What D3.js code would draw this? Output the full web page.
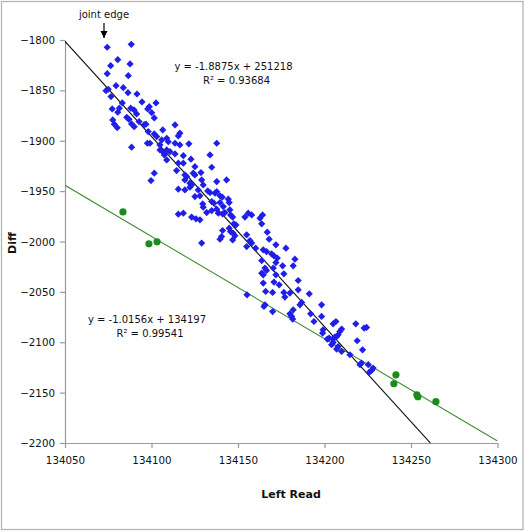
<!DOCTYPE html>
<html>
<head>
<meta charset="utf-8">
<script src="https://cdn.jsdelivr.net/npm/d3@7"></script>
<style>
  body { margin: 0; background: #fff; }
  svg { display: block; font-family: "DejaVu Sans", Verdana, sans-serif; }
</style>
</head>
<body>
<div class="chart"></div>
<script>
var svgWidth = 525
var svgHeight = 532

// blue series (left read, diff)
var blueX = [
  134074.4, 134088.3, 134080.5, 134076.4, 134087.6, 134074.4, 134086.6, 134079.5, 134073.7, 134075.0,
  134076.6, 134083.7, 134086.4, 134091.6, 134083.1, 134077.3, 134081.4, 134080.5, 134094.5, 134088.0,
  134089.9, 134091.4, 134085.7, 134087.0, 134098.7, 134097.8, 134102.6, 134100.1, 134101.6, 134077.6,
  134078.5, 134080.2, 134088.5, 134090.0, 134092.8, 134095.8, 134096.8, 134098.1, 134101.6, 134106.5,
  134105.9, 134103.0, 134097.6, 134099.1, 134088.5, 134104.9, 134104.9, 134106.5, 134107.4, 134101.6,
  134099.7,
  134113.6, 134116.4, 134115.5, 134108.8, 134109.7, 134113.6, 134116.4, 134121.6, 134137.7, 134108.8,
  134110.7, 134113.6, 134118.4, 134133.8, 134108.8, 134115.5, 134118.4, 134122.8, 134125.1, 134134.8,
  134114.5, 134119.3, 134120.3, 134124.1, 134125.1, 134128.6, 134119.3, 134122.2, 134123.2, 134129.0,
  134129.9, 134137.7, 134143.4, 134115.5, 134119.3, 134122.2, 134127.0, 134132.5, 134133.8, 134136.7,
  134137.7, 134139.6, 134140.9, 134125.1, 134128.0, 134144.4,
  134115.5, 134118.4,
  134129.6, 134129.9, 134134.8, 134136.1, 134139.6, 134141.5, 134144.9, 134145.3, 134131.9, 134134.8,
  134137.7, 134138.6, 134141.1, 134142.4, 134145.7, 134146.9, 134123.2, 134125.7, 134128.0, 134154.0,
  134155.9, 134157.9, 134162.7, 134164.2, 134147.6, 134148.8, 134163.7, 134141.1, 134144.9, 134145.7,
  134147.2, 134148.2, 134166.9, 134155.0, 134140.5, 134139.6, 134146.9, 134156.9, 134157.9, 134129.0,
  134155.0, 134160.2, 134168.0,
  134171.9, 134177.7, 134164.6, 134166.5, 134169.4, 134170.8, 134172.7, 134171.9, 134182.9, 134163.7,
  134175.8, 134181.9, 134165.6, 134166.5, 134163.7, 134164.6, 134170.4, 134171.9, 134176.5, 134170.8,
  134173.8, 134184.8, 134164.6, 134184.8, 134166.0, 134170.0, 134176.5, 134180.0, 134177.1, 134191.2,
  134186.8, 134185.8, 134165.6, 134165.0, 134170.0, 134181.9, 134180.0, 134181.0, 134192.0, 134193.9,
  134181.6, 134155.2,
  134198.3, 134198.3, 134205.0, 134206.6, 134218.1, 134222.9, 134224.3, 134209.9, 134208.9, 134199.2,
  134198.9, 134207.9, 134207.0, 134201.6, 134202.7, 134205.0, 134206.0, 134218.9, 134205.0, 134204.1,
  134207.9, 134207.0, 134209.9, 134222.0, 134214.7, 134220.5, 134221.4, 134225.3, 134227.2, 134225.8,
  134228.1
];
var blueY = [
  -1807.2, -1804.3, -1819.5, -1825.5, -1823.8, -1833.4, -1835.4, -1845.3, -1850.3, -1848.9,
  -1856.2, -1847.3, -1852.3, -1853.6, -1862.5, -1868.4, -1867.7, -1871.7, -1861.5, -1867.7,
  -1869.4, -1873.4, -1876.7, -1878.7, -1866.2, -1868.4, -1862.5, -1872.1, -1877.4, -1879.3,
  -1883.6, -1887.0, -1883.3, -1886.0, -1881.0, -1884.0, -1883.6, -1890.9, -1893.2, -1889.3,
  -1899.2, -1895.9, -1902.5, -1902.5, -1906.4, -1904.1, -1909.1, -1910.8, -1914.1, -1932.2,
  -1939.5,
  -1884.3, -1892.5, -1895.2, -1897.5, -1900.9, -1902.5, -1904.1, -1903.1, -1902.5, -1909.1,
  -1910.8, -1913.1, -1914.8, -1914.1, -1919.0, -1922.3, -1922.3, -1918.3, -1925.7, -1926.3,
  -1929.6, -1933.9, -1935.6, -1932.2, -1933.9, -1931.6, -1938.9, -1942.1, -1943.8, -1938.9,
  -1943.8, -1940.5, -1938.9, -1948.1, -1948.8, -1946.1, -1948.8, -1949.8, -1951.4, -1952.0,
  -1950.5, -1954.7, -1956.0, -1955.4, -1954.7, -1958.0,
  -1972.9, -1971.9,
  -1962.7, -1965.9, -1960.4, -1962.0, -1961.4, -1965.3, -1961.4, -1968.6, -1971.3, -1969.3,
  -1967.9, -1971.9, -1972.6, -1971.3, -1973.6, -1975.8, -1975.8, -1977.5, -1978.5, -1975.8,
  -1971.9, -1973.6, -1976.8, -1973.6, -1982.5, -1983.5, -1982.5, -1989.1, -1986.8, -1990.1,
  -1991.7, -1994.4, -1990.7, -1993.4, -1995.1, -1997.7, -1998.4, -1999.1, -2001.6, -2001.6,
  -2005.0, -2006.6, -1997.7,
  -2003.3, -2006.6, -2008.3, -2010.0, -2012.2, -2014.2, -2016.5, -2020.9, -2017.5, -2018.9,
  -2024.1, -2024.1, -2026.4, -2028.8, -2031.4, -2033.1, -2026.4, -2033.1, -2032.1, -2040.3,
  -2043.0, -2038.7, -2041.3, -2048.0, -2049.6, -2050.6, -2050.6, -2051.2, -2055.2, -2051.9,
  -2060.5, -2062.8, -2062.8, -2064.5, -2069.5, -2067.8, -2071.8, -2074.4, -2071.8, -2079.4,
  -2077.0, -2052.9,
  -2062.8, -2074.4, -2081.7, -2079.4, -2081.7, -2085.9, -2085.3, -2086.9, -2089.3, -2087.6,
  -2090.9, -2092.6, -2094.3, -2096.8, -2095.9, -2096.8, -2094.9, -2098.5, -2100.2, -2102.5,
  -2104.2, -2106.8, -2109.1, -2107.5, -2112.4, -2122.3, -2120.7, -2122.3, -2128.0, -2130.0,
  -2125.6
];

// green series (left read, diff)
var greenX = [134083.5, 134098.5, 134103.2, 134240.1, 134241.3, 134253.4, 134254.0, 134264.4];
var greenY = [-1970.6, -2002.3, -2000.3, -2141.2, -2132.3, -2152.1, -2154.1, -2159.0];

// trendline coefficients (slope, intercept) as printed on the chart
var blueFit = [-1.8875, 251218];
var greenFit = [-1.0156, 134197];
var blueFitText = ["y = -1.8875x + 251218", "R\u00b2 = 0.93684"];
var greenFitText = ["y = -1.0156x + 134197", "R\u00b2 = 0.99541"];

var xTicks = [134050, 134100, 134150, 134200, 134250, 134300];
var yTicks = [-1800, -1850, -1900, -1950, -2000, -2050, -2100, -2150, -2200];

var plot = { left: 65, right: 497.5, top: 40, bottom: 443 };

var svg = d3.select(".chart")
    .append("svg")
    .attr("width", svgWidth)
    .attr("height", svgHeight);

// outer chart frame
svg.append("rect")
    .attr("x", 1.5)
    .attr("y", 1.5)
    .attr("width", 521.5)
    .attr("height", 528)
    .attr("fill", "#fff")
    .attr("stroke", "#b4b4b4")
    .attr("stroke-width", 1.3);

var x = d3.scaleLinear()
    .domain([134050, 134300])
    .range([plot.left, plot.right]);

var y = d3.scaleLinear()
    .domain([-2200, -1800])
    .range([plot.bottom, plot.top]);

var fmt = d3.format("d");

var xAxis = svg.append("g")
    .attr("transform", `translate(0, ${plot.bottom})`)
    .call(d3.axisBottom(x).tickValues(xTicks).tickFormat(fmt).tickSize(5).tickSizeOuter(0).tickPadding(9));

var yAxis = svg.append("g")
    .attr("transform", `translate(${plot.left}, 0)`)
    .call(d3.axisLeft(y).tickValues(yTicks).tickFormat(fmt).tickSize(5).tickSizeOuter(0).tickPadding(5));

svg.selectAll(".domain, .tick line")
    .attr("stroke", "#9a9a9a")
    .attr("stroke-width", 1.2);
svg.selectAll(".tick text")
    .attr("fill", "#111")
    .style("font-size", "10.3px")
    .style("font-family", "'DejaVu Sans', Verdana, sans-serif");
yAxis.selectAll(".tick text").attr("dy", "0.35em");

// clip for trendlines
svg.append("clipPath")
    .attr("id", "plotClip")
    .append("rect")
    .attr("x", plot.left)
    .attr("y", plot.top - 2)
    .attr("width", plot.right - plot.left)
    .attr("height", plot.bottom - plot.top + 2);

function drawFit(fit, color) {
    var xs = x.domain();
    svg.append("line")
        .attr("clip-path", "url(#plotClip)")
        .attr("x1", x(xs[0]))
        .attr("y1", y(fit[0] * xs[0] + fit[1]))
        .attr("x2", x(xs[1]))
        .attr("y2", y(fit[0] * xs[1] + fit[1]))
        .attr("stroke", color)
        .attr("stroke-width", 1.1);
}

drawFit(greenFit, "#3f8f2f");
drawFit(blueFit, "#111");

var blueData = blueX.map((v, i) => [v, blueY[i]]);
var greenData = greenX.map((v, i) => [v, greenY[i]]);

var diamond = d3.symbol().type(d3.symbolSquare).size(26);

svg.append("g")
    .selectAll("path")
    .data(blueData)
    .enter()
    .append("path")
    .attr("d", diamond)
    .attr("transform", d => `translate(${x(d[0])}, ${y(d[1])}) rotate(45)`)
    .attr("fill", "#1f1fe8");

svg.append("g")
    .selectAll("circle")
    .data(greenData)
    .enter()
    .append("circle")
    .attr("cx", d => x(d[0]))
    .attr("cy", d => y(d[1]))
    .attr("r", 3.6)
    .attr("fill", "#1d8a1d");

// trendline equations
function eqLabel(lines, cx, y0) {
    svg.append("text")
        .attr("x", cx)
        .attr("y", y0)
        .attr("text-anchor", "middle")
        .style("font-size", "10px")
        .attr("fill", "#111")
        .text(lines[0]);
    svg.append("text")
        .attr("x", cx + 3)
        .attr("y", y0 + 14)
        .attr("text-anchor", "middle")
        .style("font-size", "10px")
        .attr("fill", "#111")
        .text(lines[1]);
}
eqLabel(blueFitText, 233.5, 70);
eqLabel(greenFitText, 147, 323);

// joint edge annotation
svg.append("text")
    .attr("x", 104)
    .attr("y", 18)
    .attr("text-anchor", "middle")
    .style("font-size", "10px")
    .attr("fill", "#111")
    .text("joint edge");

svg.append("defs").append("marker")
    .attr("id", "arrow")
    .attr("viewBox", "0 0 10 10")
    .attr("refX", 10)
    .attr("refY", 5)
    .attr("markerWidth", 6)
    .attr("markerHeight", 6)
    .attr("orient", "auto")
    .append("path")
    .attr("d", "M0,0 L10,5 L0,10 Z")
    .attr("fill", "#000");

svg.append("line")
    .attr("x1", 104)
    .attr("y1", 23)
    .attr("x2", 104)
    .attr("y2", 38)
    .attr("stroke", "#000")
    .attr("stroke-width", 1.2)
    .attr("marker-end", "url(#arrow)");

// axis titles
svg.append("text")
    .attr("x", 291)
    .attr("y", 498)
    .attr("text-anchor", "middle")
    .style("font-size", "11px")
    .style("font-weight", "bold")
    .attr("fill", "#111")
    .text("Left Read");

svg.append("text")
    .attr("transform", "translate(16, 243) rotate(-90)")
    .attr("text-anchor", "middle")
    .style("font-size", "11px")
    .style("font-weight", "bold")
    .attr("fill", "#111")
    .text("Diff");
</script>
</body>
</html>
